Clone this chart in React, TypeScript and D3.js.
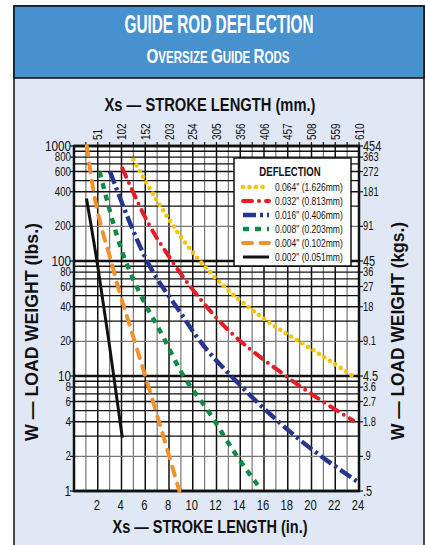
import React from "react";
import * as d3 from "d3";

const inchTicks = [2, 4, 6, 8, 10, 12, 14, 16, 18, 20, 22, 24];
const mmLabels = ["51", "102", "152", "203", "254", "305", "356", "406", "457", "508", "559", "610"];
const lbsTicks = [1000, 800, 600, 400, 200, 100, 80, 60, 40, 20, 10, 8, 6, 4, 2, 1];
const lbsLabels = ["1000", "800", "600", "400", "200", "100", "80", "60", "40", "20", "10", "8", "6", "4", "2", "1"];
const kgLabels = ["454", "363", "272", "181", "91", "45", "36", "27", "18", "9.1", "4.5", "3.6", "2.7", "1.8", ".9", ".5"];

const yellowX = [5.0, 6.96, 9.2, 11.7, 15.9, 20.15, 23.5];
const yellowW = [760, 340, 152, 75, 32, 16.8, 10];
const redX = [4.07, 6.26, 8.4, 12.0, 17.9, 23.5];
const redW = [640, 213, 95, 32, 9.9, 4.1];
const blueX = [3.03, 6.26, 8.93, 10.33, 13.98, 19.03, 23.8];
const blueW = [600, 95, 36, 22, 8.35, 2.78, 1.22];
const greenX = [2.15, 4.0, 5.56, 7.5, 8.93, 11.45, 13.56, 15.6];
const greenW = [600, 125, 52, 22, 11.3, 4.7, 2.13, 1.08];
const orangeX = [1.07, 1.63, 2.33, 3.03, 3.87, 4.72, 5.42, 7.1, 8.87];
const orangeW = [1000, 414, 192, 108, 52, 27, 15.7, 4.2, 1];
const blackX = [1.05, 2.0, 3.0, 4.07];
const blackW = [350, 90, 18, 2.9];

const legendLabels = [
  '0.064" (1.626mm)',
  '0.032" (0.813mm)',
  '0.016" (0.406mm)',
  '0.008" (0.203mm)',
  '0.004" (0.102mm)',
  '0.002" (0.051mm)',
];

const styles = [
  { color: "#f7c400", width: 4.6, dash: "0 6.5", cap: "round" },
  { color: "#e31e26", width: 4, dash: "9 7 0 7", cap: "round" },
  { color: "#26358f", width: 4.4, dash: "13 4 3 4", cap: "butt" },
  { color: "#108a47", width: 4.4, dash: "6 6", cap: "butt" },
  { color: "#f2922c", width: 4, dash: "9 8.5", cap: "round" },
  { color: "#111111", width: 3, dash: "none", cap: "butt" },
];

const FONT = "'Liberation Sans', Arial, sans-serif";

function CT({ x, y, size, anchor = "middle", weight = "normal", sx = 0.8, rot = 0, fill = "#111", children }: any) {
  return (
    <text
      transform={`translate(${x},${y}) rotate(${rot}) scale(${sx},1)`}
      fontSize={size}
      textAnchor={anchor}
      fontWeight={weight}
      fill={fill}
      fontFamily={FONT}
    >
      {children}
    </text>
  );
}

export default function App() {
  const L = 74, R = 359, T = 146, B = 491;
  const x = d3.scaleLinear().domain([0, 24]).range([L, R]);
  const y = d3.scaleLog().domain([1, 1000]).range([B, T]);

  const line = d3
    .line<[number, number]>()
    .x((d) => x(d[0]))
    .y((d) => y(d[1]))
    .curve(d3.curveMonotoneX);

  const series = [
    [yellowX, yellowW],
    [redX, redW],
    [blueX, blueW],
    [greenX, greenW],
    [orangeX, orangeW],
    [blackX, blackW],
  ];

  const hLines: { v: number; kind: string }[] = [];
  for (let e = 0; e < 3; e++) {
    for (let m = 1; m < 10; m++) {
      const v = m * Math.pow(10, e);
      hLines.push({ v, kind: m === 1 ? "major" : m === 2 ? "gray" : "minor" });
    }
  }
  hLines.push({ v: 1000, kind: "major" });

  const vLines = d3.range(1, 24);

  const legX = 234, legY = 158, legW = 117, legH = 108;
  const rowY = (i: number) => 187 + i * 14;

  return (
    <svg width={425} height={545} style={{ position: "absolute", left: 0, top: 0 }}>
      {/* frame */}
      <rect x={14} y={6} width={410} height={560} fill="#e1e8f5" stroke="#111" strokeWidth={1.5} />
      <rect x={14} y={6} width={410} height={72} fill="#4891cf" stroke="#111" strokeWidth={1.5} />
      <text x={219} y={33} fontSize={25} fontWeight="bold" fill="#fff" textAnchor="middle" fontFamily={FONT}
        textLength={189} lengthAdjust="spacingAndGlyphs">GUIDE ROD DEFLECTION</text>
      <text x={218} y={63} fontSize={16} fontWeight="bold" fill="#fff" textAnchor="middle" fontFamily={FONT}
        textLength={143} lengthAdjust="spacingAndGlyphs">
        <tspan fontSize={21}>O</tspan>VERSIZE <tspan fontSize={21}>G</tspan>UIDE <tspan fontSize={21}>R</tspan>ODS
      </text>

      {/* plot background */}
      <rect x={L} y={T} width={R - L} height={B - T} fill="#fff" />

      {/* grid */}
      {vLines.map((v) => (
        <line key={"v" + v} x1={x(v)} x2={x(v)} y1={T} y2={B}
          stroke={v % 2 === 0 ? "#111" : "#777"} strokeWidth={v % 2 === 0 ? 1.5 : 1.2} />
      ))}
      {hLines.map((h, i) => (
        <line key={"h" + i} x1={L} x2={R} y1={y(h.v)} y2={y(h.v)}
          stroke={h.kind === "gray" ? "#777" : "#111"}
          strokeWidth={h.kind === "major" ? 2.4 : 1.3} />
      ))}
      {/* top ticks */}
      {d3.range(1, 25).map((v) => (
        <line key={"tt" + v} x1={x(v)} x2={x(v)} y1={T - 4} y2={T} stroke="#111" strokeWidth={1.2} />
      ))}
      {/* side ticks */}
      {lbsTicks.map((v) => (
        <g key={"st" + v}>
          <line x1={L - 4} x2={L} y1={y(v)} y2={y(v)} stroke="#111" strokeWidth={1.2} />
          <line x1={R} x2={R + 4} y1={y(v)} y2={y(v)} stroke="#111" strokeWidth={1.2} />
        </g>
      ))}

      {/* border */}
      <rect x={L} y={T} width={R - L} height={B - T} fill="none" stroke="#111" strokeWidth={2.5} />

      {/* series */}
      {series.map((s, i) => {
        const pts = s[0].map((xv, j) => [xv, s[1][j]] as [number, number]);
        const st = styles[i];
        return (
          <path key={"s" + i} d={line(pts) || ""} fill="none" stroke={st.color} strokeWidth={st.width}
            strokeDasharray={st.dash} strokeLinecap={st.cap as any} />
        );
      })}

      {/* legend */}
      <rect x={legX} y={legY} width={legW} height={legH} fill="#fff" stroke="#111" strokeWidth={1.5} />
      <CT x={290} y={176} size={12} weight="bold" sx={0.8}>DEFLECTION</CT>
      {legendLabels.map((lab, i) => {
        const st = styles[i];
        return (
          <g key={"lg" + i}>
            <line x1={243} x2={269} y1={rowY(i)} y2={rowY(i)} stroke={st.color} strokeWidth={st.width}
              strokeDasharray={st.dash} strokeLinecap={st.cap as any} />
            <CT x={275} y={rowY(i) + 4} size={11.5} anchor="start" sx={0.74}>{lab}</CT>
          </g>
        );
      })}

      {/* left labels */}
      {lbsTicks.map((v, i) => {
        const major = [1000, 100, 10, 1].includes(v);
        return (
          <CT key={"ll" + v} x={L - 3} y={y(v) + (major ? 5 : 4)} size={major ? 15 : 12.5} anchor="end" sx={0.78}>
            {lbsLabels[i]}
          </CT>
        );
      })}
      {/* right labels */}
      {lbsTicks.map((v, i) => {
        const major = [1000, 100, 10, 1].includes(v);
        return (
          <CT key={"rl" + v} x={R + 4} y={y(v) + (major ? 5 : 4)} size={major ? 14 : 12} anchor="start" sx={0.78}>
            {kgLabels[i]}
          </CT>
        );
      })}
      {/* bottom labels */}
      {inchTicks.map((v) => (
        <CT key={"bl" + v} x={x(v) - 1} y={510} size={14} sx={0.8}>{String(v)}</CT>
      ))}
      {/* top mm labels */}
      {inchTicks.map((v, i) => (
        <CT key={"ml" + v} x={x(v) + 4.5} y={140} size={12.5} anchor="start" rot={-90} sx={0.8}>{mmLabels[i]}</CT>
      ))}

      {/* axis titles */}
      <text x={210} y={111} fontSize={19} fontWeight="bold" fill="#111" textAnchor="middle" fontFamily={FONT}
        textLength={211} lengthAdjust="spacingAndGlyphs">Xs — STROKE LENGTH (mm.)</text>
      <text x={210} y={533} fontSize={19} fontWeight="bold" fill="#111" textAnchor="middle" fontFamily={FONT}
        textLength={195} lengthAdjust="spacingAndGlyphs">Xs — STROKE LENGTH (in.)</text>
      <text transform="translate(38,332) rotate(-90)" fontSize={19} fontWeight="bold" fill="#111" textAnchor="middle"
        fontFamily={FONT} textLength={218} lengthAdjust="spacingAndGlyphs">W — LOAD WEIGHT (lbs.)</text>
      <text transform="translate(404,331) rotate(-90)" fontSize={19} fontWeight="bold" fill="#111" textAnchor="middle"
        fontFamily={FONT} textLength={218} lengthAdjust="spacingAndGlyphs">W — LOAD WEIGHT (kgs.)</text>
    </svg>
  );
}
